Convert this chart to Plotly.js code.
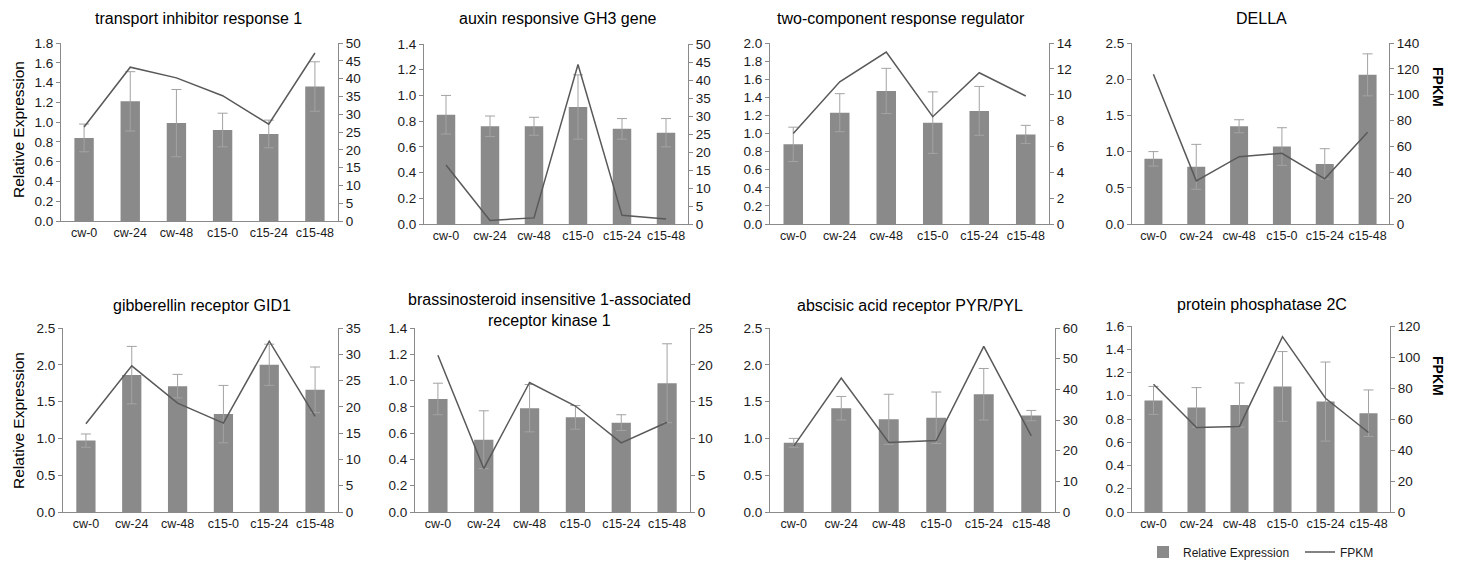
<!DOCTYPE html>
<html>
<head>
<meta charset="utf-8">
<script src="https://cdn.plot.ly/plotly-3.0.1.min.js"></script>
<style>
  html, body { margin: 0; padding: 0; background: #ffffff; }
  #chart { width: 1462px; height: 562px; }
</style>
</head>
<body>
<div id="chart"></div>
<script>
// ---- Data ----
const categories = ['cw-0', 'cw-24', 'cw-48', 'c15-0', 'c15-24', 'c15-48'];

const panelTitles = [
  'transport inhibitor response 1',
  'auxin responsive GH3 gene',
  'two-component response regulator',
  'DELLA',
  'gibberellin receptor GID1',
  'brassinosteroid insensitive 1-associated<br>receptor kinase 1',
  'abscisic acid receptor PYR/PYL',
  'protein phosphatase 2C'
];

const rel1 = [0.84, 1.21, 0.99, 0.92, 0.88, 1.36];
const err1 = [0.14, 0.30, 0.34, 0.17, 0.14, 0.25];
const fpkm1 = [26.4, 43.2, 40.2, 35.2, 27.2, 47.2];

const rel2 = [0.85, 0.76, 0.76, 0.91, 0.74, 0.71];
const err2 = [0.15, 0.08, 0.07, 0.25, 0.08, 0.11];
const fpkm2 = [16.4, 1.0, 1.7, 44.3, 2.4, 1.4];

const rel3 = [0.88, 1.23, 1.47, 1.12, 1.25, 0.99];
const err3 = [0.19, 0.21, 0.25, 0.34, 0.27, 0.10];
const fpkm3 = [7.0, 11.0, 13.3, 8.3, 11.7, 9.9];

const rel4 = [0.90, 0.79, 1.35, 1.07, 0.83, 2.06];
const err4 = [0.10, 0.31, 0.09, 0.26, 0.21, 0.29];
const fpkm4 = [115.8, 33.4, 52.1, 54.7, 34.9, 70.9];

const rel5 = [0.97, 1.86, 1.71, 1.33, 2.00, 1.66];
const err5 = [0.09, 0.39, 0.16, 0.39, 0.28, 0.31];
const fpkm5 = [16.8, 27.8, 20.7, 16.9, 32.5, 18.2];

const rel6 = [0.86, 0.55, 0.79, 0.72, 0.68, 0.98];
const err6 = [0.12, 0.22, 0.18, 0.09, 0.06, 0.30];
const fpkm6 = [21.3, 5.9, 17.6, 14.4, 9.4, 12.2];

const rel7 = [0.94, 1.41, 1.26, 1.28, 1.60, 1.31];
const err7 = [0.06, 0.16, 0.34, 0.35, 0.35, 0.07];
const fpkm7 = [21.5, 43.7, 22.7, 23.3, 54.0, 24.8];

const rel8 = [0.96, 0.90, 0.92, 1.08, 0.95, 0.85];
const err8 = [0.12, 0.17, 0.19, 0.30, 0.34, 0.20];
const fpkm8 = [82.4, 54.5, 55.2, 113.1, 73.4, 51.3];

const relSeries = [rel1, rel2, rel3, rel4, rel5, rel6, rel7, rel8];
const errSeries = [err1, err2, err3, err4, err5, err6, err7, err8];
const fpkmSeries = [fpkm1, fpkm2, fpkm3, fpkm4, fpkm5, fpkm6, fpkm7, fpkm8];

// Axis scales
const leftMax  = [1.8, 1.4, 2.0, 2.5, 2.5, 1.4, 2.5, 1.6];
const leftStep = [0.2, 0.2, 0.2, 0.5, 0.5, 0.2, 0.5, 0.2];
const rightMax  = [50, 50, 14, 140, 35, 25, 60, 120];
const rightStep = [5, 5, 2, 20, 5, 5, 10, 20];

// ---- Layout geometry (pixels) ----
const W = 1462, H = 562;
// [left, right, top, bottom] of each plot area
const boxes = [
  [61, 338, 43, 221],
  [424, 688, 44, 224],
  [770, 1049, 43, 224],
  [1132, 1389, 43, 224],
  [63, 338, 328, 512],
  [415, 690, 328, 512],
  [770, 1055, 328, 512],
  [1132, 1390, 326, 512]
];
const titlePos = [
  [198, 18], [558, 18], [901, 18], [1261, 18],
  [202, 305], [549, 310], [910, 305], [1262, 304]
];

const FONT = 'Liberation Sans, Arial, sans-serif';
const TEXT = '#1a1a1a';
const AXIS = '#8a8a8a';
const BAR = '#8a8a8a';
const LINE = '#595959';
const ERR = '#a3a3a3';

const data = [];
const legendBase = {
  orientation: 'h',
  xanchor: 'left', yanchor: 'middle',
  font: {family: FONT, size: 12, color: TEXT},
  bgcolor: 'rgba(0,0,0,0)',
  itemwidth: 30
};
const layout = {
  width: W, height: H,
  margin: {l: 0, r: 0, t: 0, b: 0, autoexpand: false},
  paper_bgcolor: '#ffffff',
  plot_bgcolor: 'rgba(0,0,0,0)',
  font: {family: FONT, size: 12, color: TEXT},
  showlegend: true,
  legend: Object.assign({}, legendBase, {x: 1143 / W, y: 1 - 552 / H}),
  legend2: Object.assign({}, legendBase, {x: 1300 / W, y: 1 - 552 / H}),
  annotations: [],
};

for (let i = 0; i < 8; i++) {
  const n = i + 1;
  const xName = n === 1 ? 'x' : 'x' + n;
  const yL = 2 * i + 1, yR = 2 * i + 2;
  const yLName = yL === 1 ? 'y' : 'y' + yL;
  const yRName = 'y' + yR;
  const [L, R, T, B] = boxes[i];

  layout['xaxis' + (n === 1 ? '' : n)] = {
    domain: [L / W, R / W],
    anchor: yLName,
    type: 'category',
    range: [-0.5, 5.5],
    showline: true, linecolor: AXIS, linewidth: 1,
    ticks: '', showgrid: false, zeroline: false,
    tickfont: {family: FONT, size: 12.5, color: TEXT},
    fixedrange: true
  };
  layout['yaxis' + (yL === 1 ? '' : yL)] = {
    domain: [1 - B / H, 1 - T / H],
    anchor: xName,
    range: [0, leftMax[i]],
    dtick: leftStep[i], tick0: 0,
    tickformat: '.1f',
    showline: true, linecolor: AXIS, linewidth: 1,
    ticks: 'outside', ticklen: 4, tickcolor: AXIS,
    showgrid: false, zeroline: false,
    tickfont: {family: FONT, size: 13.5, color: TEXT},
    fixedrange: true
  };
  layout['yaxis' + yR] = {
    overlaying: yLName,
    anchor: xName,
    side: 'right',
    range: [0, rightMax[i]],
    dtick: rightStep[i], tick0: 0,
    showline: true, linecolor: AXIS, linewidth: 1,
    ticks: 'outside', ticklen: 4, tickcolor: AXIS,
    showgrid: false, zeroline: false,
    tickfont: {family: FONT, size: 13.5, color: TEXT},
    fixedrange: true
  };

  data.push({
    type: 'bar',
    name: 'Relative Expression',
    legend: 'legend',
    legendgroup: 'rel',
    showlegend: i === 0,
    x: categories, y: relSeries[i],
    xaxis: xName, yaxis: yLName,
    marker: {color: BAR, line: {width: 0}},
    width: 0.42,
    error_y: {type: 'data', array: errSeries[i], visible: true,
              color: ERR, thickness: 1, width: 5},
    hoverinfo: 'x+y'
  });
  data.push({
    type: 'scatter', mode: 'lines',
    name: 'FPKM',
    legend: 'legend2',
    legendgroup: 'fpkm',
    showlegend: i === 0,
    x: categories, y: fpkmSeries[i],
    xaxis: xName, yaxis: yRName,
    line: {color: LINE, width: 1.5},
    hoverinfo: 'x+y'
  });

  layout.annotations.push({
    xref: 'paper', yref: 'paper',
    x: titlePos[i][0] / W, y: 1 - titlePos[i][1] / H,
    xanchor: 'center', yanchor: 'middle',
    text: panelTitles[i], showarrow: false,
    font: {family: FONT, size: 16, color: '#000000'},
    align: 'center'
  });
}

// Axis titles
layout.annotations.push(
  {xref: 'paper', yref: 'paper', x: 18 / W, y: 1 - 130 / H, xanchor: 'center', yanchor: 'middle',
   text: 'Relative Expression', textangle: -90, showarrow: false,
   font: {family: FONT, size: 15.5, color: '#000000'}},
  {xref: 'paper', yref: 'paper', x: 18 / W, y: 1 - 421 / H, xanchor: 'center', yanchor: 'middle',
   text: 'Relative Expression', textangle: -90, showarrow: false,
   font: {family: FONT, size: 15.5, color: '#000000'}},
  {xref: 'paper', yref: 'paper', x: 1438 / W, y: 1 - 87 / H, xanchor: 'center', yanchor: 'middle',
   text: '<b>FPKM</b>', textangle: 90, showarrow: false,
   font: {family: FONT, size: 14, color: '#000000'}},
  {xref: 'paper', yref: 'paper', x: 1438 / W, y: 1 - 376 / H, xanchor: 'center', yanchor: 'middle',
   text: '<b>FPKM</b>', textangle: 90, showarrow: false,
   font: {family: FONT, size: 14, color: '#000000'}}
);

Plotly.newPlot('chart', data, layout, {displayModeBar: false, staticPlot: false, responsive: false});
</script>
</body>
</html>
